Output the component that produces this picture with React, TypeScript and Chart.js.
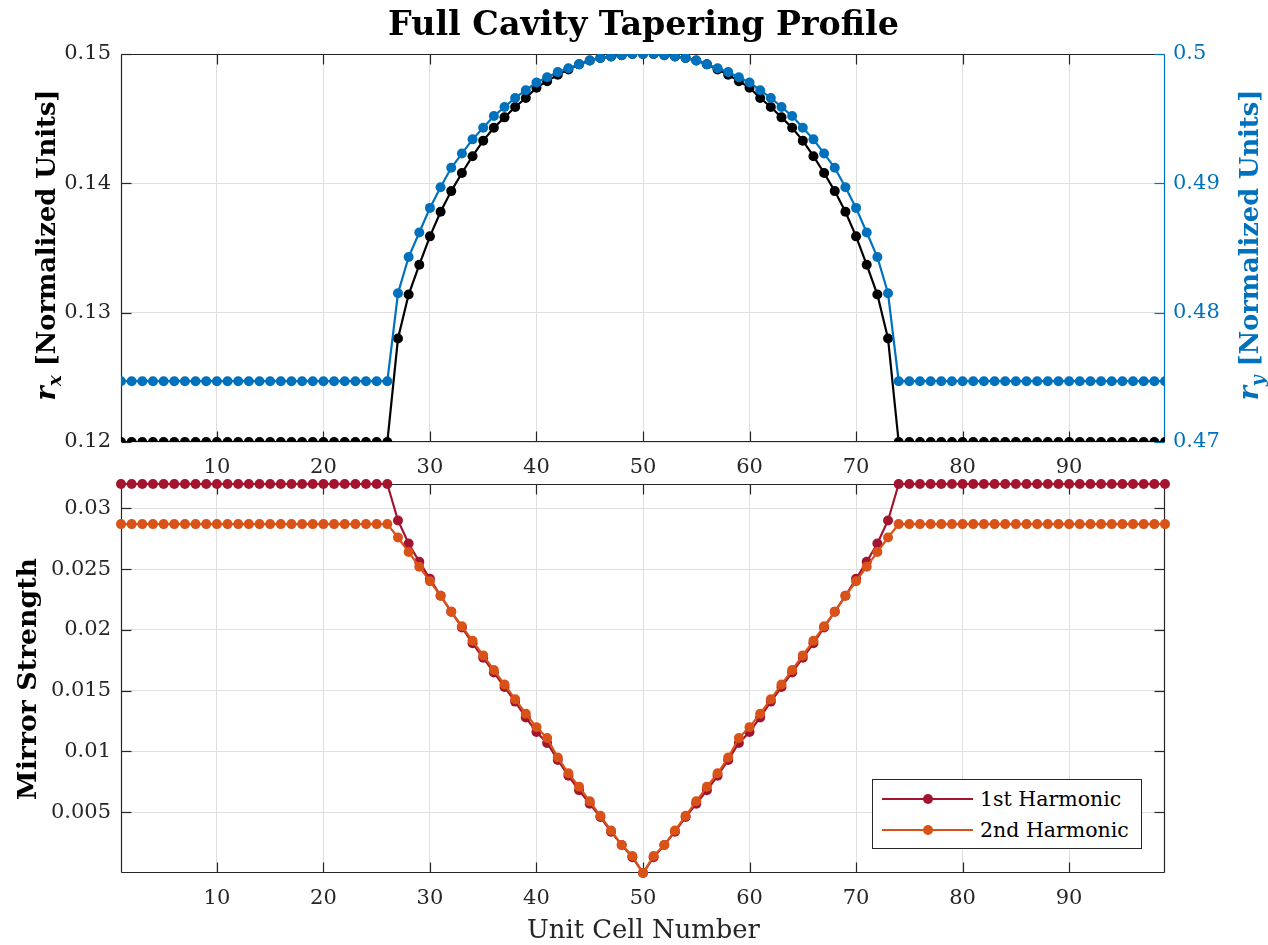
import React, { useEffect, useRef } from 'react';
import { Chart, registerables } from 'chart.js';

Chart.register(...registerables);

const FONT = '"DejaVu Serif"';
const AXIS_COLOR = '#262626';
const GRID_COLOR = '#dfdfdf';
const BLACK = '#000000';
const BLUE = '#0072BD';
const RED = '#A2142F';
const ORANGE = '#D95319';

// ---------- data ----------
const unitCells = [
  1, 2, 3, 4, 5, 6, 7, 8, 9, 10, 11, 12, 13, 14, 15, 16, 17, 18, 19, 20,
  21, 22, 23, 24, 25, 26, 27, 28, 29, 30, 31, 32, 33, 34, 35, 36, 37, 38, 39, 40,
  41, 42, 43, 44, 45, 46, 47, 48, 49, 50, 51, 52, 53, 54, 55, 56, 57, 58, 59, 60,
  61, 62, 63, 64, 65, 66, 67, 68, 69, 70, 71, 72, 73, 74, 75, 76, 77, 78, 79, 80,
  81, 82, 83, 84, 85, 86, 87, 88, 89, 90, 91, 92, 93, 94, 95, 96, 97, 98, 99,
];

const xTicks = [10, 20, 30, 40, 50, 60, 70, 80, 90];
const xTickLabels = ['10', '20', '30', '40', '50', '60', '70', '80', '90'];

const rxTicks = [0.12, 0.13, 0.14, 0.15];
const rxTickLabels = ['0.12', '0.13', '0.14', '0.15'];
const ryTicks = [0.47, 0.48, 0.49, 0.5];
const ryTickLabels = ['0.47', '0.48', '0.49', '0.5'];
const mirrorTicks = [0.005, 0.01, 0.015, 0.02, 0.025, 0.03];
const mirrorTickLabels = ['0.005', '0.01', '0.015', '0.02', '0.025', '0.03'];

const rx = [
  0.1200, 0.1200, 0.1200, 0.1200, 0.1200, 0.1200, 0.1200, 0.1200, 0.1200, 0.1200,
  0.1200, 0.1200, 0.1200, 0.1200, 0.1200, 0.1200, 0.1200, 0.1200, 0.1200, 0.1200,
  0.1200, 0.1200, 0.1200, 0.1200, 0.1200, 0.1200,
  0.1280, 0.1314, 0.1337, 0.1359, 0.1378, 0.1394, 0.1408, 0.1421, 0.1433, 0.1443,
  0.1451, 0.1459, 0.1466, 0.1474, 0.1479, 0.1484, 0.1488, 0.1492, 0.1495, 0.1497,
  0.1498, 0.1499, 0.1500, 0.1500,
  0.1500, 0.1499, 0.1498, 0.1497, 0.1495, 0.1492, 0.1488, 0.1484, 0.1479, 0.1474,
  0.1466, 0.1459, 0.1451, 0.1443, 0.1433, 0.1421, 0.1408, 0.1394, 0.1378, 0.1359,
  0.1337, 0.1314, 0.1280,
  0.1200, 0.1200, 0.1200, 0.1200, 0.1200, 0.1200, 0.1200, 0.1200, 0.1200, 0.1200,
  0.1200, 0.1200, 0.1200, 0.1200, 0.1200, 0.1200, 0.1200, 0.1200, 0.1200, 0.1200,
  0.1200, 0.1200, 0.1200, 0.1200, 0.1200, 0.1200,
];

const ry = [
  0.4747, 0.4747, 0.4747, 0.4747, 0.4747, 0.4747, 0.4747, 0.4747, 0.4747, 0.4747,
  0.4747, 0.4747, 0.4747, 0.4747, 0.4747, 0.4747, 0.4747, 0.4747, 0.4747, 0.4747,
  0.4747, 0.4747, 0.4747, 0.4747, 0.4747, 0.4747,
  0.4815, 0.4843, 0.4862, 0.4881, 0.4897, 0.4912, 0.4923, 0.4934, 0.4943, 0.4952,
  0.4959, 0.4966, 0.4972, 0.4978, 0.4982, 0.4986, 0.4989, 0.4992, 0.4995, 0.4997,
  0.4998, 0.4999, 0.5000, 0.5000,
  0.5000, 0.4999, 0.4998, 0.4997, 0.4995, 0.4992, 0.4989, 0.4986, 0.4982, 0.4978,
  0.4972, 0.4966, 0.4959, 0.4952, 0.4943, 0.4934, 0.4923, 0.4912, 0.4897, 0.4881,
  0.4862, 0.4843, 0.4815,
  0.4747, 0.4747, 0.4747, 0.4747, 0.4747, 0.4747, 0.4747, 0.4747, 0.4747, 0.4747,
  0.4747, 0.4747, 0.4747, 0.4747, 0.4747, 0.4747, 0.4747, 0.4747, 0.4747, 0.4747,
  0.4747, 0.4747, 0.4747, 0.4747, 0.4747, 0.4747,
];

const harmonicLabels = ['1st Harmonic', '2nd Harmonic'];

const harmonic1 = [
  0.0320, 0.0320, 0.0320, 0.0320, 0.0320, 0.0320, 0.0320, 0.0320, 0.0320, 0.0320,
  0.0320, 0.0320, 0.0320, 0.0320, 0.0320, 0.0320, 0.0320, 0.0320, 0.0320, 0.0320,
  0.0320, 0.0320, 0.0320, 0.0320, 0.0320, 0.0320,
  0.0290, 0.0271, 0.0256, 0.0242, 0.0228, 0.0215, 0.0202, 0.0189, 0.0177, 0.0165,
  0.0153, 0.0141, 0.0128, 0.0116, 0.0107, 0.0093, 0.0080, 0.0068, 0.0057, 0.0046,
  0.0034, 0.0023, 0.0013, 0.0000,
  0.0013, 0.0023, 0.0034, 0.0046, 0.0057, 0.0068, 0.0080, 0.0093, 0.0107, 0.0116,
  0.0128, 0.0141, 0.0153, 0.0165, 0.0177, 0.0189, 0.0202, 0.0215, 0.0228, 0.0242,
  0.0256, 0.0271, 0.0290,
  0.0320, 0.0320, 0.0320, 0.0320, 0.0320, 0.0320, 0.0320, 0.0320, 0.0320, 0.0320,
  0.0320, 0.0320, 0.0320, 0.0320, 0.0320, 0.0320, 0.0320, 0.0320, 0.0320, 0.0320,
  0.0320, 0.0320, 0.0320, 0.0320, 0.0320, 0.0320,
];

const harmonic2 = [
  0.0287, 0.0287, 0.0287, 0.0287, 0.0287, 0.0287, 0.0287, 0.0287, 0.0287, 0.0287,
  0.0287, 0.0287, 0.0287, 0.0287, 0.0287, 0.0287, 0.0287, 0.0287, 0.0287, 0.0287,
  0.0287, 0.0287, 0.0287, 0.0287, 0.0287, 0.0287,
  0.0276, 0.0264, 0.0252, 0.0240, 0.0228, 0.0215, 0.0203, 0.0191, 0.0179, 0.0167,
  0.0155, 0.0143, 0.0131, 0.0120, 0.0111, 0.0095, 0.0082, 0.0071, 0.0059, 0.0047,
  0.0035, 0.0023, 0.0014, 0.0000,
  0.0014, 0.0023, 0.0035, 0.0047, 0.0059, 0.0071, 0.0082, 0.0095, 0.0111, 0.0120,
  0.0131, 0.0143, 0.0155, 0.0167, 0.0179, 0.0191, 0.0203, 0.0215, 0.0228, 0.0240,
  0.0252, 0.0264, 0.0276,
  0.0287, 0.0287, 0.0287, 0.0287, 0.0287, 0.0287, 0.0287, 0.0287, 0.0287, 0.0287,
  0.0287, 0.0287, 0.0287, 0.0287, 0.0287, 0.0287, 0.0287, 0.0287, 0.0287, 0.0287,
  0.0287, 0.0287, 0.0287, 0.0287, 0.0287, 0.0287,
];

// ---------- helpers ----------
const pts = (ys: number[]) => unitCells.map((x, i) => ({ x, y: ys[i] }));

const labelFor = (values: number[], labels: string[]) => (v: any) => {
  const i = values.findIndex((t) => Math.abs(t - Number(v)) < 1e-9);
  return i >= 0 ? labels[i] : '';
};

const fixedTicks = (values: number[]) => (scale: any) => {
  scale.ticks = values.map((v) => ({ value: v }));
};

const TICK_FONT = { family: FONT, size: 21 };

const lineStyle = (color: string) => ({
  borderColor: color,
  backgroundColor: color,
  pointBackgroundColor: color,
  pointBorderColor: color,
  borderWidth: 2.2,
  pointRadius: 5,
  pointHoverRadius: 5,
  pointBorderWidth: 0,
  tension: 0,
});

type Part = { t: string; style: string; scale?: number; dy?: number };
type TextItem = {
  parts: Part[];
  fit: { text: string; style: string; width: number };
  x: number;
  y: number;
  rotate: boolean;
  color: string;
};

const makeTextPlugin = (items: TextItem[]) => ({
  id: 'customTexts',
  afterDraw(chart: any) {
    const ctx = chart.ctx;
    for (const it of items) {
      ctx.save();
      ctx.font = `${it.fit.style} 100px ${FONT}`;
      const size = (100 * it.fit.width) / ctx.measureText(it.fit.text).width;
      let total = 0;
      const widths = it.parts.map((p) => {
        ctx.font = `${p.style} ${size * (p.scale ?? 1)}px ${FONT}`;
        const w = ctx.measureText(p.t).width;
        total += w;
        return w;
      });
      ctx.translate(it.x, it.y);
      if (it.rotate) ctx.rotate(-Math.PI / 2);
      ctx.fillStyle = it.color;
      ctx.textBaseline = 'alphabetic';
      ctx.textAlign = 'left';
      let cx = -total / 2;
      it.parts.forEach((p, i) => {
        ctx.font = `${p.style} ${size * (p.scale ?? 1)}px ${FONT}`;
        ctx.fillText(p.t, cx, (p.dy ?? 0) * size);
        cx += widths[i];
      });
      ctx.restore();
    }
  },
});

const makeFramePlugin = (rightAxisId: string | null, rightColor: string) => ({
  id: 'matlabFrame',
  beforeDatasetsDraw(chart: any) {
    const { ctx, chartArea: a, scales } = chart;
    const tl = 10;
    const L = Math.round(a.left) + 0.5;
    const R = Math.round(a.right) - 0.5;
    const T = Math.round(a.top) + 0.5;
    const B = Math.round(a.bottom) - 0.5;
    const seg = (x1: number, y1: number, x2: number, y2: number) => {
      ctx.beginPath();
      ctx.moveTo(x1, y1);
      ctx.lineTo(x2, y2);
      ctx.stroke();
    };
    ctx.save();
    ctx.lineWidth = 1.2;
    ctx.strokeStyle = AXIS_COLOR;
    for (const t of scales.x.ticks) {
      const px = Math.round(scales.x.getPixelForValue(t.value)) + 0.5;
      seg(px, T, px, T + tl);
      seg(px, B, px, B - tl);
    }
    for (const t of scales.y.ticks) {
      const py = Math.round(scales.y.getPixelForValue(t.value)) + 0.5;
      seg(L, py, L + tl, py);
      if (!rightAxisId) seg(R, py, R - tl, py);
    }
    seg(L, T, R, T);
    seg(L, B, R, B);
    seg(L, T, L, B);
    ctx.strokeStyle = rightColor;
    if (rightAxisId) {
      for (const t of scales[rightAxisId].ticks) {
        const py = Math.round(scales[rightAxisId].getPixelForValue(t.value)) + 0.5;
        seg(R, py, R - tl, py);
      }
    }
    seg(R, T, R, B);
    ctx.restore();
  },
});

const xScale = (height: number) => ({
  type: 'linear',
  position: 'bottom',
  min: 1,
  max: 99,
  afterBuildTicks: fixedTicks(xTicks),
  afterFit: (s: any) => {
    s.height = height;
    s.paddingLeft = 0;
    s.paddingRight = 0;
  },
  grid: { color: GRID_COLOR, lineWidth: 1, drawTicks: false },
  border: { display: false },
  ticks: {
    font: TICK_FONT,
    color: AXIS_COLOR,
    padding: 13,
    maxRotation: 0,
    autoSkip: false,
    callback: labelFor(xTicks, xTickLabels),
  },
});

const yScale = (
  position: string,
  min: number,
  max: number,
  values: number[],
  labels: string[],
  width: number,
  color: string,
  padding: number,
  grid: boolean,
) => ({
  type: 'linear',
  position,
  min,
  max,
  afterBuildTicks: fixedTicks(values),
  afterFit: (s: any) => {
    s.width = width;
    s.paddingTop = 0;
    s.paddingBottom = 0;
  },
  grid: grid ? { color: GRID_COLOR, lineWidth: 1, drawTicks: false } : { display: false, drawTicks: false },
  border: { display: false },
  ticks: {
    font: TICK_FONT,
    color,
    padding,
    autoSkip: false,
    callback: labelFor(values, labels),
  },
});

const TOP_H = 478;
const BOTTOM_TOP = 478;
const BOTTOM_H = 467;

export default function App() {
  const topRef = useRef<HTMLCanvasElement | null>(null);
  const bottomRef = useRef<HTMLCanvasElement | null>(null);

  useEffect(() => {
    const topChart = new Chart(topRef.current as HTMLCanvasElement, {
      type: 'line',
      data: {
        datasets: [
          { label: 'r_x', data: pts(rx), yAxisID: 'y', order: 1, ...lineStyle(BLACK) } as any,
          { label: 'r_y', data: pts(ry), yAxisID: 'y2', order: 0, ...lineStyle(BLUE) } as any,
        ],
      },
      options: {
        animation: false,
        responsive: false,
        events: [],
        layout: { padding: { top: 54, left: 0, right: 0, bottom: 0 } },
        plugins: { legend: { display: false }, tooltip: { enabled: false }, title: { display: false } },
        scales: {
          x: xScale(TOP_H - 442) as any,
          y: yScale('left', 0.12, 0.15, rxTicks, rxTickLabels, 121, AXIS_COLOR, 10, true) as any,
          y2: yScale('right', 0.47, 0.5, ryTicks, ryTickLabels, 103, BLUE, 8, false) as any,
        },
      } as any,
      plugins: [
        makeFramePlugin('y2', BLUE),
        makeTextPlugin([
          {
            parts: [{ t: 'Full Cavity Tapering Profile', style: 'bold' }],
            fit: { text: 'Full Cavity Tapering Profile', style: 'bold', width: 511 },
            x: 643.5,
            y: 35,
            rotate: false,
            color: BLACK,
          },
          {
            parts: [
              { t: 'r', style: 'italic bold', scale: 1.05 },
              { t: 'x', style: 'italic bold', scale: 0.72, dy: 0.22 },
              { t: ' [Normalized Units]', style: 'bold' },
            ],
            fit: { text: '[Normalized Units]', style: 'bold', width: 277 },
            x: 55,
            y: 245,
            rotate: true,
            color: BLACK,
          },
          {
            parts: [
              { t: 'r', style: 'italic bold', scale: 1.05 },
              { t: 'y', style: 'italic bold', scale: 0.72, dy: 0.22 },
              { t: ' [Normalized Units]', style: 'bold' },
            ],
            fit: { text: '[Normalized Units]', style: 'bold', width: 277 },
            x: 1258,
            y: 245,
            rotate: true,
            color: BLUE,
          },
        ]),
      ],
    } as any);

    const bottomChart = new Chart(bottomRef.current as HTMLCanvasElement, {
      type: 'line',
      data: {
        datasets: [
          { label: harmonicLabels[0], data: pts(harmonic1), order: 1, clip: false, ...lineStyle(RED) } as any,
          { label: harmonicLabels[1], data: pts(harmonic2), order: 0, clip: false, ...lineStyle(ORANGE) } as any,
        ],
      },
      options: {
        animation: false,
        responsive: false,
        events: [],
        layout: { padding: { top: 6, left: 0, right: 103, bottom: 0 } },
        plugins: { legend: { display: false }, tooltip: { enabled: false }, title: { display: false } },
        scales: {
          x: xScale(BOTTOM_H - 395) as any,
          y: yScale('left', 0, 0.032, mirrorTicks, mirrorTickLabels, 121, AXIS_COLOR, 10, true) as any,
        },
      } as any,
      plugins: [
        makeFramePlugin(null, AXIS_COLOR),
        makeTextPlugin([
          {
            parts: [{ t: 'Mirror Strength', style: 'bold' }],
            fit: { text: 'Mirror Strength', style: 'bold', width: 242 },
            x: 36,
            y: 201,
            rotate: true,
            color: BLACK,
          },
          {
            parts: [{ t: 'Unit Cell Number', style: 'normal' }],
            fit: { text: 'Unit Cell Number', style: 'normal', width: 233 },
            x: 643.5,
            y: 460,
            rotate: false,
            color: AXIS_COLOR,
          },
        ]),
      ],
    } as any);

    return () => {
      topChart.destroy();
      bottomChart.destroy();
    };
  }, []);

  const legendColors = [RED, ORANGE];

  return (
    <div style={{ position: 'absolute', left: 0, top: 0, width: 1268, height: 945, background: '#ffffff', overflow: 'hidden' }}>
      <canvas
        ref={topRef}
        width={1268}
        height={TOP_H}
        style={{ position: 'absolute', left: 0, top: 0, width: 1268, height: TOP_H }}
      />
      <canvas
        ref={bottomRef}
        width={1268}
        height={BOTTOM_H}
        style={{ position: 'absolute', left: 0, top: BOTTOM_TOP, width: 1268, height: BOTTOM_H }}
      />
      <div
        style={{
          position: 'absolute',
          left: 872,
          top: 779,
          width: 270,
          height: 70,
          boxSizing: 'border-box',
          border: `1px solid ${AXIS_COLOR}`,
          background: '#ffffff',
        }}
      >
        {harmonicLabels.map((name, i) => (
          <div key={name} style={{ position: 'absolute', left: 0, top: 4 + i * 31, width: 268, height: 30 }}>
            <div style={{ position: 'absolute', left: 9, top: 14, width: 91, height: 2, background: legendColors[i] }} />
            <div
              style={{
                position: 'absolute',
                left: 50,
                top: 10,
                width: 10,
                height: 10,
                borderRadius: '50%',
                background: legendColors[i],
              }}
            />
            <span
              style={{
                position: 'absolute',
                left: 107,
                top: 0,
                height: 30,
                lineHeight: '30px',
                fontFamily: FONT,
                fontSize: 20.5,
                color: BLACK,
                whiteSpace: 'nowrap',
              }}
            >
              {name}
            </span>
          </div>
        ))}
      </div>
    </div>
  );
}
